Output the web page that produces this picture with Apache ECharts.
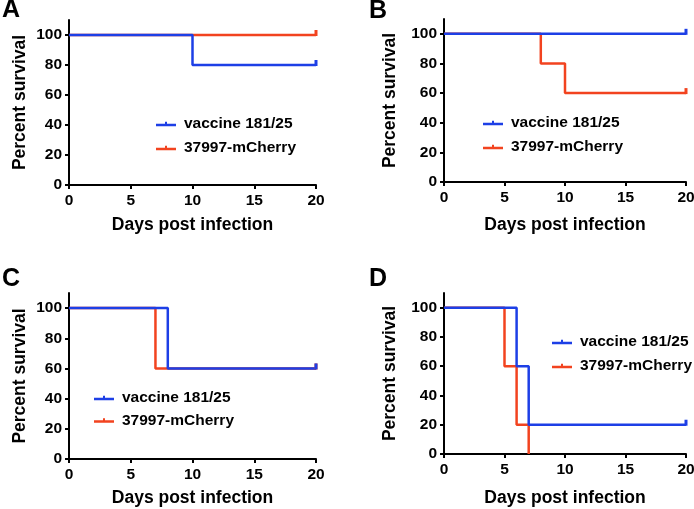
<!DOCTYPE html>
<html>
<head>
<meta charset="utf-8">
<script src="https://cdn.jsdelivr.net/npm/echarts@6/dist/echarts.min.js"></script>
<style>
  html, body { margin: 0; padding: 0; background: #fff; }
  #main { width: 694px; height: 509px; }
</style>
</head>
<body>
<div id="main"></div>
<script>
// survival curves, 4 panels
var xTicks = [0, 5, 10, 15, 20];
var yTicks = [0, 20, 40, 60, 80, 100];
var seriesNames = ["vaccine 181/25", "37997-mCherry"];
var panelLabels = ["A", "B", "C", "D"];

var vaccineA = [[0, 100], [10, 80], [20, 80]];
var cherryA = [[0, 100], [20, 100]];
var vaccineB = [[0, 100], [20, 100]];
var cherryB = [[0, 100], [8, 80], [10, 60], [20, 60]];
var vaccineC = [[0, 100], [8, 60], [20, 60]];
var cherryC = [[0, 100], [7, 60], [20, 60]];
var vaccineD = [[0, 100], [6, 60], [7, 20], [20, 20]];
var cherryD = [[0, 100], [5, 60], [6, 20], [7, 0]];

var vaccineData = [vaccineA, vaccineB, vaccineC, vaccineD];
var cherryData = [cherryA, cherryB, cherryC, cherryD];

var blue = "#1d3fe6";
var red = "#f2431f";
var font = "Liberation Sans";

// layout per panel
var grids = [
    { left: 69, top: 20, width: 247, height: 165 },
    { left: 444, top: 19, width: 242, height: 163 },
    { left: 69, top: 293, width: 247, height: 166 },
    { left: 444, top: 293, width: 242, height: 161 }
];
var xNameGap = [31, 34, 30, 35];
var yNameGap = [40, 45, 40, 45];
var legendPos = [
    { left: 156, top: 115, gap: 6 },
    { left: 483, top: 114, gap: 6 },
    { left: 94, top: 389, gap: 4.5 },
    { left: 552, top: 333, gap: 6 }
];
var labelPos = [[2, 10], [369, 11], [2, 279], [369, 279]];

var legendIcon = "path://M0,2 L20,2 L20,4.5 L0,4.5 Z M9,0 L11,0 L11,2 L9,2 Z";

function censorSize(val) {
    return val[0] === 20 ? [3, 6] : 0;
}

var xAxes = [], yAxes = [], series = [], legends = [], graphics = [];
grids.forEach(function (g, i) {
    g.outerBoundsMode = "none";
    xAxes.push({
        type: "value",
        gridIndex: i,
        min: 0,
        max: 20,
        interval: 5,
        name: "Days post infection",
        nameLocation: "middle",
        nameGap: xNameGap[i],
        nameTextStyle: { fontFamily: font, fontWeight: "bold", fontSize: 17.5, color: "#000" },
        axisLine: { lineStyle: { color: "#000", width: 2 } },
        axisTick: { show: true, length: 4, lineStyle: { color: "#000", width: 2 } },
        axisLabel: { margin: 8, fontFamily: font, fontWeight: "bold", fontSize: 15.5, color: "#000",
            showMinLabel: true, showMaxLabel: true },
        splitLine: { show: false }
    });
    yAxes.push({
        type: "value",
        gridIndex: i,
        min: 0,
        max: 110,
        name: "Percent survival",
        nameLocation: "middle",
        nameGap: yNameGap[i],
        nameTextStyle: { fontFamily: font, fontWeight: "bold", fontSize: 17.5, color: "#000" },
        axisLine: { show: true, lineStyle: { color: "#000", width: 2 } },
        axisTick: { show: true, length: 4, customValues: yTicks, lineStyle: { color: "#000", width: 2 } },
        axisLabel: { margin: 7, customValues: yTicks, fontFamily: font, fontWeight: "bold", fontSize: 15.5, color: "#000" },
        splitLine: { show: false }
    });
    // red first so blue sits on top
    series.push({
        name: seriesNames[1],
        type: "line",
        xAxisIndex: i,
        yAxisIndex: i,
        step: "end",
        data: cherryData[i],
        symbol: "rect",
        symbolSize: censorSize,
        symbolOffset: [0, -2],
        clip: false,
        lineStyle: { color: red, width: 2.5 },
        itemStyle: { color: red },
        emphasis: { disabled: true }
    });
    series.push({
        name: seriesNames[0],
        type: "line",
        xAxisIndex: i,
        yAxisIndex: i,
        step: "end",
        data: vaccineData[i],
        symbol: "rect",
        symbolSize: censorSize,
        symbolOffset: [0, -2],
        clip: false,
        lineStyle: { color: blue, width: 2.5 },
        itemStyle: { color: blue },
        emphasis: { disabled: true }
    });
    legends.push({
        orient: "vertical",
        left: legendPos[i].left,
        top: legendPos[i].top,
        padding: 0,
        itemGap: legendPos[i].gap,
        itemWidth: 20,
        itemHeight: 4.5,
        selectedMode: false,
        data: [
            { name: seriesNames[0], icon: legendIcon, itemStyle: { color: blue } },
            { name: seriesNames[1], icon: legendIcon, itemStyle: { color: red } }
        ],
        textStyle: { fontFamily: font, fontWeight: "bold", fontSize: 15.5, color: "#000",
            lineHeight: 18, padding: [0, 0, 0, 3] }
    });
    graphics.push({
        type: "text",
        left: labelPos[i][0],
        top: labelPos[i][1] - 12,
        style: { text: panelLabels[i], font: "bold 25px " + font, fill: "#000" }
    });
});

var myChart = echarts.init(document.getElementById("main"));
var option = {
    animation: false,
    backgroundColor: "#fff",
    grid: grids,
    xAxis: xAxes,
    yAxis: yAxes,
    legend: legends,
    series: series,
    graphic: graphics
};
myChart.setOption(option);
</script>
</body>
</html>
